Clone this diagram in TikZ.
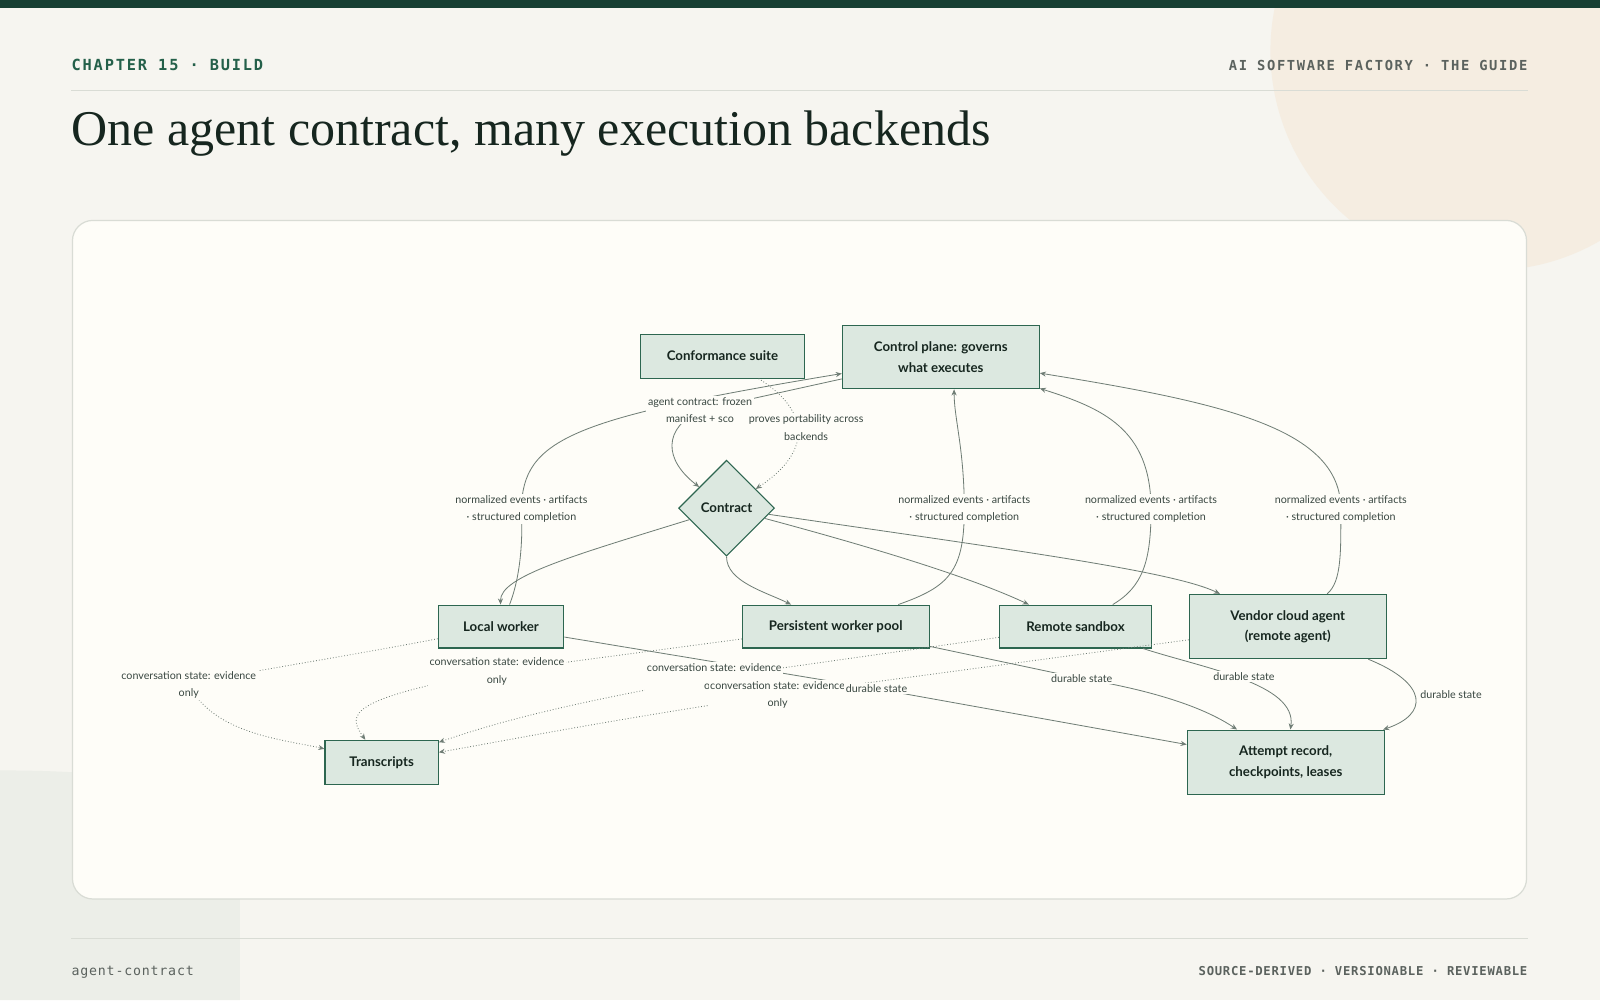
\documentclass[tikz,border=0pt]{standalone}
\usepackage{fontspec}
\setmainfont{Lato}
\newfontfamily\titlefont{Liberation Serif}
\newfontfamily\monofont[LetterSpace=12]{DejaVu Sans Mono}
\newfontfamily\monofontb[LetterSpace=6]{DejaVu Sans Mono}
\usetikzlibrary{shapes.geometric,arrows.meta}
\definecolor{bg}{HTML}{F6F5F0}
\definecolor{bar}{HTML}{173F33}
\definecolor{panel}{HTML}{FEFDF8}
\definecolor{panelline}{HTML}{D9DCD5}
\definecolor{blob}{HTML}{F5EDE1}
\definecolor{blob2}{HTML}{ECEEE8}
\definecolor{nfill}{HTML}{DCE8E0}
\definecolor{nline}{HTML}{2D6650}
\definecolor{edge}{HTML}{6F7D75}
\definecolor{hgreen}{HTML}{24604A}
\definecolor{ink}{HTML}{16261F}
\definecolor{gtext}{HTML}{5B625E}
\tikzset{
  box/.style={draw=nline,fill=nfill,line width=1.1pt,align=center,font=\fontsize{13}{20}\selectfont\bfseries,text=ink,inner sep=0pt},
  dia/.style={diamond,draw=nline,fill=nfill,line width=1.1pt,font=\fontsize{13}{16}\selectfont\bfseries,text=ink,minimum width=94,minimum height=94,inner sep=0pt,aspect=1},
  lab/.style={fill=panel,align=center,font=\fontsize{10.5}{17}\selectfont,text=ink!85,inner sep=1.5pt},
  e/.style={draw=edge,line width=0.8pt,-{Stealth[length=6pt,width=5pt]}},
  d/.style={e,dotted},
}
\begin{document}
\begin{tikzpicture}[x=1pt,y=-1pt]
\useasboundingbox (0,0) rectangle (1568,980);
\fill[bg] (0,0) rectangle (1568,980);
\begin{scope}
\clip (0,0) rectangle (1568,980);
\fill[blob] (1460,50) circle (215);
\fill[blob2] (0,755) .. controls (200,755) and (235,790) .. (235,860) -- (235,980) -- (0,980) -- cycle;
\end{scope}
\fill[bar] (0,0) rectangle (1568,8);
\node[anchor=base west,inner sep=0pt,font=\monofont\bfseries\fontsize{15}{15}\selectfont,text=hgreen] (hl) at (70,69) {CHAPTER 15 · BUILD};
\node[anchor=base east,inner sep=0pt,font=\monofont\bfseries\fontsize{13.5}{15}\selectfont,text=gtext] (hr) at (1497,69) {AI SOFTWARE FACTORY · THE GUIDE};
\draw[panelline,line width=0.8pt] (70,89) -- (1497,89);
\node[anchor=base west,font=\titlefont\fontsize{49}{50}\selectfont,text=ink,inner sep=0pt] (title) at (70,143) {One agent contract, many execution backends};
\draw[panelline,line width=0.8pt] (70,920) -- (1497,920);
\node[anchor=base west,inner sep=0pt,font=\monofontb\fontsize{13}{15}\selectfont,text=gtext] (fl) at (70,956) {agent-contract};
\node[anchor=base east,inner sep=0pt,font=\monofontb\bfseries\fontsize{12}{15}\selectfont,text=gtext] (fr) at (1497,956) {SOURCE-DERIVED · VERSIONABLE · REVIEWABLE};
\draw[panelline,fill=panel,line width=1.2pt,rounded corners=20] (71,216) rectangle (1496,881);

% nodes
\node[box,minimum width=161,minimum height=43] (cs) at (708,349) {Conformance suite};
\node[box,minimum width=193,minimum height=62] (cp) at (922,350) {Control plane: governs\\what executes};
\node[dia] (ct) at (712,498) {Contract};
\node[box,minimum width=123,minimum height=42] (lw) at (491,614) {Local worker};
\node[box,minimum width=183,minimum height=42] (pw) at (819,614) {Persistent worker pool};
\node[box,minimum width=149,minimum height=42] (rs) at (1054,614) {Remote sandbox};
\node[box,minimum width=193,minimum height=63] (vc) at (1262,614) {Vendor cloud agent\\(remote agent)};
\node[box,minimum width=111,minimum height=43] (tr) at (374,747) {Transcripts};
\node[box,minimum width=193,minimum height=63] (ar) at (1260,747) {Attempt record,\\checkpoints, leases};

% label coordinates
\coordinate (p1) at (511,499);
\coordinate (p2) at (686,402);
\coordinate (p3) at (790,419);
\coordinate (p8) at (945,499);
\coordinate (p9) at (1128,499);
\coordinate (p10) at (1314,499);
\coordinate (p11) at (185,671);
\coordinate (p12) at (487,658);
\coordinate (p13) at (700,664);
\coordinate (p14) at (762,681);
\coordinate (p15) at (859,675);
\coordinate (p16) at (1060,665);
\coordinate (p17) at (1219,663);
\coordinate (p18) at (1422,681);

% edges
\draw[e] (lw) .. controls (512,560) and (512,520) .. (p1) .. controls (512,430) and (560,410) .. (cp);
\draw[e] (cp) -- (p2) .. controls (650,420) and (650,450) .. (ct);
\draw[d] (cs) .. controls (790,400) and (800,440) .. (ct);
\draw[e] (ct) .. controls (560,545) and (490,565) .. (lw);
\draw[e] (ct.south) .. controls (712,570) and (750,580) .. (pw);
\draw[e] (ct) .. controls (850,535) and (950,565) .. (rs);
\draw[e] (ct) .. controls (1000,540) and (1150,560) .. (vc);
\draw[e] (pw) .. controls (930,575) and (945,560) .. (p8) .. controls (945,440) and (935,410) .. (cp.south -| 935,0);
\draw[e] (rs) .. controls (1120,575) and (1128,550) .. (p9) .. controls (1128,420) and (1080,400) .. (cp);
\draw[e] (vc) .. controls (1315,570) and (1314,540) .. (p10) .. controls (1314,420) and (1200,395) .. (cp);
\draw[d] (lw) .. controls (330,645) and (230,660) .. (p11) .. controls (210,720) and (280,725) .. (tr);
\draw[d] (pw) -- (p12) .. controls (340,685) and (340,700) .. (tr);
\draw[d] (rs) -- (p13) .. controls (550,690) and (480,710) .. (tr);
\draw[d] (vc) -- (p14) .. controls (600,705) and (500,725) .. (tr);
\draw[e] (lw) -- (p15) -- (ar);
\draw[e] (pw) -- (p16) .. controls (1150,680) and (1190,700) .. (ar);
\draw[e] (rs) .. controls (1180,655) and (1271,670) .. (ar);
\draw[e] (vc) .. controls (1400,670) and (1400,700) .. (ar);

% labels
\node[lab] (l1) at (p1) {normalized events · artifacts\\· structured completion};
\node[lab] (l2) at (p2) {agent contract: frozen\\manifest + sco};
\node[lab] (l3) at (p3) {proves portability across\\backends};
\node[lab] (l8) at (p8) {normalized events · artifacts\\· structured completion};
\node[lab] (l9) at (p9) {normalized events · artifacts\\· structured completion};
\node[lab] (l10) at (p10) {normalized events · artifacts\\· structured completion};
\node[lab] (l11) at (p11) {conversation state: evidence\\only};
\node[lab] (l12) at (p12) {conversation state: evidence\\only};
\node[lab] (l13) at (p13) {conversation state: evidence\\only};
\node[lab] (l14) at (p14) {conversation state: evidence\\only};
\node[lab] (l15) at (p15) {durable state};
\node[lab] (l16) at (p16) {durable state};
\node[lab] (l17) at (p17) {durable state};
\node[lab] (l18) at (p18) {durable state};
\end{tikzpicture}
\end{document}
